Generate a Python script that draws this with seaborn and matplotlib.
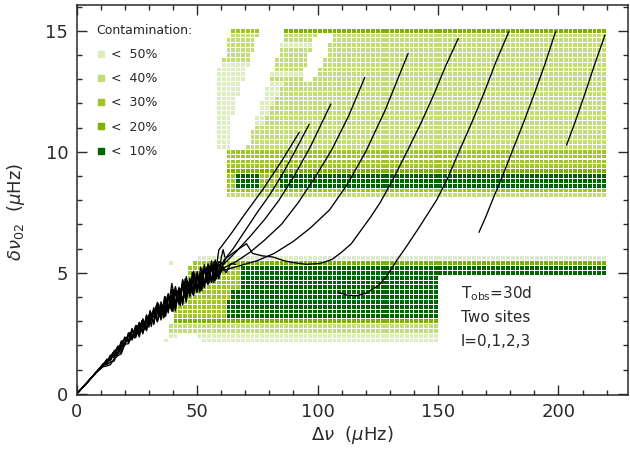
import pandas as pd
import seaborn as sns
import matplotlib.pyplot as plt
from matplotlib.lines import Line2D
from matplotlib.ticker import MultipleLocator

sns.set_style('ticks')
plt.rcParams['font.family'] = ['DejaVu Sans']

# contamination classes, 1 = <10% ... 5 = <50%
level_colors = {1: '#006400', 2: '#80b000', 3: '#9fc52b', 4: '#c2dc7a', 5: '#deedbd'}
level_labels = {1: '<  10%', 2: '<  20%', 3: '<  30%', 4: '<  40%', 5: '<  50%'}

# grid rows: delta nu_02 of the row and runs of (first dnu, last dnu, class), dnu step 2
grid_d02 = [15.0, 14.8, 14.6, 14.4, 14.2, 14.0, 13.8, 13.6, 13.4, 13.2, 13.0,
            12.8, 12.6, 12.4, 12.2, 12.0, 11.8, 11.6, 11.4, 11.2, 11.0,
            10.8, 10.6, 10.4, 10.2, 10.0, 9.8, 9.6, 9.4, 9.2, 9.0, 8.8, 8.6, 8.4, 8.2,
            5.6, 5.4, 5.2, 5.0, 4.8, 4.6, 4.4, 4.2, 4.0, 3.8, 3.6, 3.4, 3.2,
            3.0, 2.8, 2.6, 2.4, 2.2]
grid_runs = [
    [(65, 75, 3), (87, 219, 2)],
    [(65, 75, 4), (87, 99, 4), (107, 219, 4)],
    [(63, 73, 4), (87, 97, 4), (107, 219, 4)],
    [(63, 73, 4), (85, 97, 5), (105, 219, 4)],
    [(63, 73, 4), (85, 97, 4), (105, 219, 4)],
    [(63, 71, 4), (85, 95, 4), (105, 219, 4)],
    [(61, 71, 4), (83, 95, 4), (103, 219, 4)],
    [(61, 71, 5), (83, 95, 4), (103, 219, 4)],
    [(59, 69, 5), (83, 93, 4), (101, 219, 4)],
    [(59, 69, 5), (81, 93, 5), (101, 219, 4)],
    [(59, 69, 5), (81, 93, 4), (99, 219, 4)],
    [(59, 67, 5), (81, 85, 5), (87, 219, 4)],
    [(59, 67, 5), (79, 83, 5), (85, 219, 4)],
    [(59, 67, 5), (79, 83, 5), (85, 219, 4)],
    [(59, 65, 5), (79, 81, 5), (83, 219, 4)],
    [(59, 65, 5), (77, 81, 5), (83, 219, 4)],
    [(59, 65, 5), (77, 79, 5), (81, 219, 4)],
    [(59, 65, 5), (77, 79, 5), (81, 219, 4)],
    [(59, 63, 5), (75, 77, 5), (79, 219, 4)],
    [(59, 63, 5), (75, 77, 5), (79, 219, 4)],
    [(59, 63, 5), (75, 219, 4)],
    [(59, 63, 5), (73, 219, 4)],
    [(59, 63, 5), (73, 219, 4)],
    [(59, 63, 5), (73, 219, 4)],
    [(59, 63, 5), (71, 219, 4)],
    [(63, 219, 3)],
    [(63, 219, 3)],
    [(63, 219, 3)],
    [(63, 219, 3)],
    [(63, 219, 2)],
    [(63, 65, 3), (67, 75, 1), (77, 83, 3), (85, 219, 1)],
    [(63, 65, 3), (67, 75, 1), (77, 83, 3), (85, 219, 1)],
    [(63, 65, 3), (67, 75, 1), (77, 83, 3), (85, 219, 1)],
    [(63, 219, 3)],
    [(63, 219, 4)],
    [(51, 219, 5)],
    [(39, 39, 5), (49, 67, 3), (69, 219, 2)],
    [(47, 67, 3), (69, 219, 1)],
    [(47, 67, 3), (69, 219, 1)],
    [(47, 67, 3), (69, 149, 1)],
    [(45, 67, 3), (69, 149, 1)],
    [(45, 67, 3), (69, 149, 1)],
    [(43, 63, 3), (65, 149, 1)],
    [(43, 63, 3), (65, 149, 1)],
    [(41, 61, 3), (63, 149, 1)],
    [(41, 61, 3), (63, 149, 1)],
    [(41, 61, 3), (63, 149, 1)],
    [(41, 61, 3), (63, 149, 1)],
    [(41, 149, 2)],
    [(39, 149, 4)],
    [(39, 43, 4), (45, 149, 4)],
    [(39, 41, 5), (51, 149, 5)],
    [(37, 37, 5), (53, 149, 5)],
]

# evolutionary tracks (dnu, d02)
noisy_dnu = [0.5, 4, 8, 11, 12.5, 14, 15.5, 17, 18.5, 20, 21.5, 23, 24.5, 26, 27.5, 29, 30.5, 32,
             33.5, 35, 36.5, 38, 39.5, 41, 42.5, 44, 45.5, 47, 48.5, 50, 51.5, 53, 54.5, 56, 57.5, 59]

track1_dnu = noisy_dnu + [64, 70, 77, 85, 92.4]
track1_d02 = [0.05, 0.42, 0.88, 1.22, 1.30, 1.60, 1.55, 1.97, 1.95, 2.35, 2.12, 2.65, 2.42, 2.95, 2.58, 3.25, 2.89, 3.46,
              2.98, 3.80, 3.32, 4.14, 3.51, 4.23, 3.70, 4.72, 4.04, 4.75, 4.11, 5.05, 4.44, 5.18, 4.52, 5.40, 4.88, 5.94,
              6.6, 7.45, 8.4, 9.6, 10.8]
track2_dnu = noisy_dnu + [61, 65, 70, 75, 80, 85, 90, 96.5]
track2_d02 = [0.05, 0.42, 0.88, 1.17, 1.43, 1.42, 1.77, 1.70, 2.18, 2.05, 2.49, 2.22, 2.80, 2.53, 3.10, 2.65, 3.29, 2.96,
              3.73, 3.25, 3.87, 3.34, 4.31, 3.68, 4.40, 3.72, 4.69, 4.25, 5.06, 4.25, 4.99, 4.48, 5.37, 4.70, 5.43, 4.76,
              5.5, 6.0, 6.75, 7.5, 8.2, 9.0, 9.9, 11.13]
track3_dnu = noisy_dnu + [61, 66, 72, 78, 84, 90, 97, 105.5]
track3_d02 = [0.05, 0.42, 0.88, 1.25, 1.25, 1.55, 1.50, 1.92, 1.80, 2.30, 2.22, 2.70, 2.32, 2.85, 2.48, 3.20, 2.94, 3.56,
              3.03, 3.60, 3.17, 4.09, 3.66, 4.43, 3.70, 4.42, 3.79, 4.75, 4.26, 4.85, 4.24, 5.28, 4.67, 5.25, 4.68, 5.46,
              5.35, 5.85, 6.5, 7.2, 8.0, 8.95, 10.2, 11.97]
track4_dnu = noisy_dnu + [61, 66, 72, 78, 85, 92, 99, 106, 113, 119.6]
track4_d02 = [0.05, 0.42, 0.88, 1.15, 1.40, 1.35, 1.70, 1.62, 2.10, 2.00, 2.52, 2.30, 2.72, 2.35, 3.03, 2.75, 3.44, 2.91,
              3.58, 3.05, 4.02, 3.44, 4.06, 3.43, 4.35, 3.87, 4.84, 4.05, 4.91, 4.35, 4.99, 4.38, 5.32, 4.65, 5.28, 4.86,
              5.2, 5.45, 5.85, 6.35, 7.0, 7.9, 8.95, 10.1, 11.5, 13.07]
track5_dnu = noisy_dnu + [61, 68, 75, 82, 90, 97, 105, 112, 120, 128, 137.6]
track5_d02 = [0.05, 0.42, 0.86, 1.12, 1.15, 1.20, 1.45, 1.57, 1.65, 2.05, 2.07, 2.45, 2.37, 2.75, 2.53, 3.10, 2.94, 3.41,
              2.98, 3.55, 3.37, 3.99, 3.41, 4.13, 3.80, 4.57, 3.94, 4.55, 4.06, 4.90, 4.49, 5.13, 4.52, 5.15, 4.78, 5.36,
              5.1, 5.3, 5.5, 5.8, 6.3, 6.85, 7.6, 8.6, 10.0, 11.7, 14.06]
track6_dnu = noisy_dnu + [62, 66, 70.5, 73, 77, 81.5, 86, 90, 95, 101, 106, 110, 114, 118, 122, 126, 131,
                          137.6, 143, 148, 153, 158.4]
track6_d02 = [0.05, 0.42, 0.88, 1.20, 1.20, 1.30, 1.35, 1.67, 1.70, 2.10, 2.42, 2.30, 2.82, 2.45, 2.93, 2.60, 3.39, 3.16,
              3.78, 3.20, 3.82, 3.49, 4.56, 3.78, 4.35, 3.82, 4.74, 4.20, 4.86, 4.20, 5.24, 4.53, 5.12, 4.60, 5.53, 4.96,
              5.6, 5.9, 6.2, 5.8, 5.7, 5.65, 5.5, 5.42, 5.35, 5.38, 5.55, 5.85, 6.2, 6.75, 7.3, 7.9, 8.8,
              10.1, 11.2, 12.3, 13.5, 14.68]
track7_dnu = [108.5, 112, 116, 120, 125, 129, 132.8, 137, 142, 149.4, 154, 159, 164, 169, 174, 179.4]
track7_d02 = [4.2, 4.08, 4.05, 4.15, 4.45, 4.9, 5.5, 6.1, 6.85, 8.0, 8.9, 10.07, 11.2, 12.4, 13.7, 14.96]
track8_dnu = [167, 170, 172.9, 177, 181, 185.5, 190, 194.5, 198.8]
track8_d02 = [6.67, 7.35, 8.07, 9.05, 10.07, 11.2, 12.4, 13.65, 14.96]
track9_dnu = [203.4, 207, 211, 215, 219.3]
track9_d02 = [10.28, 11.25, 12.4, 13.6, 14.82]
track10_dnu = [0.5, 5, 10, 13, 15, 16, 17, 18, 19, 20, 22, 24, 26, 28, 30, 31, 32, 33, 34, 35, 36, 37, 38, 39, 40,
               41, 42, 43, 44, 45, 46, 47, 48, 49, 50, 51, 52, 53, 54, 55, 56, 57, 58, 59, 60, 60.8, 61.5]
track10_d02 = [0.05, 0.55, 1.1, 1.3, 1.7, 1.57, 1.92, 1.73, 2.2, 2.05, 2.53, 2.3, 2.95, 2.65, 3.25, 2.78, 3.51, 3.14,
               3.72, 3.15, 3.68, 3.21, 4.09, 3.52, 4.3, 3.58, 4.26, 3.64, 4.67, 4.0, 4.67, 4.0, 5.02, 4.23, 4.9, 4.21,
               5.17, 4.43, 5.24, 4.6, 5.5, 4.6, 5.4, 4.76, 5.62, 5.96, 5.65]
track11_dnu = [0.5, 5, 10, 12, 14, 16, 18, 20, 22, 23, 24, 25, 26, 27, 28, 29, 30, 31, 32, 33, 34, 35, 36, 37, 38,
               39, 40, 41, 42, 43, 44, 45, 46, 47, 48, 49, 50, 51, 52, 53, 54, 55, 56, 57, 58, 60, 62, 64, 66]
track11_d02 = [0.05, 0.55, 1.1, 1.35, 1.4, 1.82, 1.83, 2.3, 2.18, 2.62, 2.4, 2.83, 2.45, 3.02, 2.7, 3.25, 2.75, 3.28,
               2.86, 3.64, 3.17, 3.7, 3.13, 4.01, 3.44, 4.07, 3.4, 4.38, 3.81, 4.34, 3.67, 4.75, 4.07, 4.75, 4.12, 4.98,
               4.2, 4.91, 4.27, 5.33, 4.59, 5.3, 4.6, 5.45, 4.75, 5.42, 5.0, 5.38, 5.35]

tracks = [(track1_dnu, track1_d02), (track2_dnu, track2_d02), (track3_dnu, track3_d02),
          (track4_dnu, track4_d02), (track5_dnu, track5_d02), (track6_dnu, track6_d02),
          (track7_dnu, track7_d02), (track8_dnu, track8_d02), (track9_dnu, track9_d02),
          (track10_dnu, track10_d02), (track11_dnu, track11_d02)]

# expand runs into single cells
cells = []
for d02, runs in zip(grid_d02, grid_runs):
    for first, last, lev in runs:
        for dnu in range(first, last + 1, 2):
            cells.append((dnu, d02, lev))
df = pd.DataFrame(cells, columns=['dnu', 'd02', 'level'])

fig, ax = plt.subplots(figsize=(6.3, 4.59), dpi=100)
fig.subplots_adjust(left=0.1217, right=0.9973, bottom=0.1394, top=0.989)

sns.scatterplot(data=df, x='dnu', y='d02', hue='level', palette=level_colors,
                marker='s', s=7.6, linewidth=0, legend=False, ax=ax)

for xs, ys in tracks:
    sns.lineplot(x=xs, y=ys, sort=False, estimator=None, color='black', lw=0.95, ax=ax)

ax.set_xlim(0, 229)
ax.set_ylim(-0.05, 16.06)
ax.xaxis.set_major_locator(MultipleLocator(50))
ax.xaxis.set_minor_locator(MultipleLocator(10))
ax.yaxis.set_major_locator(MultipleLocator(5))
ax.yaxis.set_minor_locator(MultipleLocator(1))
ax.tick_params(which='both', direction='in', top=True, right=True, labelsize=13, colors='#2a2a2a')
ax.tick_params(which='major', length=7, width=1, pad=6)
ax.tick_params(which='minor', length=3.5, width=1)
for sp in ax.spines.values():
    sp.set_linewidth(1.1)
    sp.set_color('#2a2a2a')

ax.set_xlabel(r'$\Delta\nu$  ($\mu$Hz)', fontsize=13, labelpad=2, color='#2a2a2a')
ax.set_ylabel(r'$\delta\nu_{02}$  ($\mu$Hz)', fontsize=13, color='#2a2a2a')
ax.yaxis.set_label_coords(-0.09, 0.47)

handles = [Line2D([0], [0], marker='s', ls='', color=level_colors[k], markersize=4.5) for k in [5, 4, 3, 2, 1]]
labels = [level_labels[k] for k in [5, 4, 3, 2, 1]]
ax.legend(handles, labels, title='Contamination:', loc='upper left', bbox_to_anchor=(0.026, 0.965),
          frameon=False, fontsize=9, title_fontsize=9, labelspacing=0.9, handletextpad=0.45,
          handlelength=0.75, alignment='left', borderaxespad=0)

ax.text(159.5, 4.15, r'T$_{\rm obs}$=30d', fontsize=11, va='center', color='#2a2a2a')
ax.text(159.5, 3.16, 'Two sites', fontsize=11, va='center', color='#2a2a2a')
ax.text(159.5, 2.17, 'l=0,1,2,3', fontsize=11, va='center', color='#2a2a2a')

fig.savefig('out.png', dpi=100)
